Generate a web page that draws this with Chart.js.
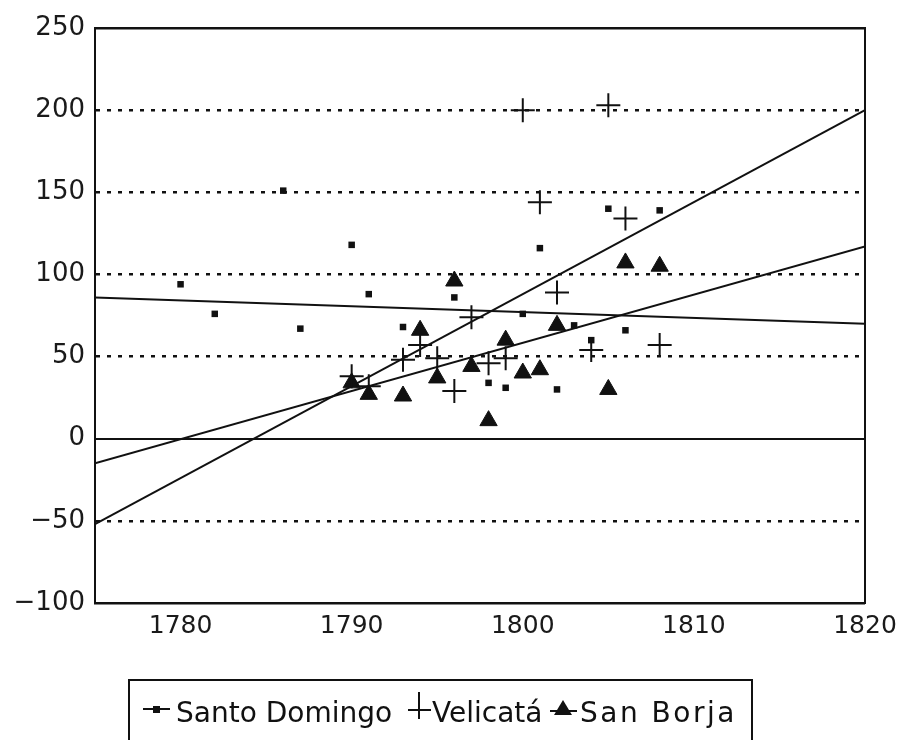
<!DOCTYPE html>
<html>
<head>
<meta charset="utf-8">
<script src="https://cdn.jsdelivr.net/npm/chart.js@4.4.1/dist/chart.umd.min.js"></script>
<style>
  html, body { margin: 0; padding: 0; background: #fff; }
  #wrap { width: 900px; height: 740px; }
</style>
</head>
<body>
<div id="wrap"><canvas id="grafico" width="900" height="740"></canvas></div>
<script>
// --- Dados por missão (ano, valor) ---
const anosSantoDomingo = [1780, 1782, 1786, 1787, 1790, 1791, 1793, 1796, 1798, 1799, 1800, 1801, 1802, 1803, 1804, 1805, 1806, 1808];
const valoresSantoDomingo = [94, 76, 151, 67, 118, 88, 68, 86, 34, 31, 76, 116, 30, 69, 60, 140, 66, 139];

const anosVelicata = [1790, 1791, 1793, 1794, 1795, 1796, 1797, 1798, 1799, 1800, 1801, 1802, 1804, 1805, 1806, 1808];
const valoresVelicata = [38, 32, 48, 57, 49, 29, 74, 46, 49, 200, 144, 89, 54, 203, 134, 57];

const anosSanBorja = [1790, 1791, 1793, 1794, 1795, 1796, 1797, 1798, 1799, 1800, 1801, 1802, 1805, 1806, 1808];
const valoresSanBorja = [34, 27, 26, 66, 37, 96, 44, 11, 60, 40, 42, 69, 30, 107, 105];

// Retas de tendência: valores nos extremos do eixo X
const anosTendencia = [1775, 1820];
const tendenciaSantoDomingo = [86, 70];
const tendenciaVelicata = [-52, 200];
const tendenciaSanBorja = [-15, 117];

// Eixos
const ticksX = [1780, 1790, 1800, 1810, 1820];
const ticksY = [-100, -50, 0, 50, 100, 150, 200, 250];

const pares = (xs, ys) => xs.map((x, i) => ({ x: x, y: ys[i] }));

function reta(valores) {
    return {
        data: pares(anosTendencia, valores),
        showLine: true,
        borderColor: '#111',
        borderWidth: 2,
        pointRadius: 0,
        fill: false
    };
}

// Moldura em volta da área do gráfico
const molduraPlugin = {
    id: 'moldura',
    afterDatasetsDraw(chart) {
        const { ctx, chartArea: a } = chart;
        ctx.save();
        ctx.strokeStyle = '#111';
        ctx.lineWidth = 2;
        ctx.strokeRect(a.left, a.top, a.right - a.left, a.bottom - a.top);
        ctx.restore();
    }
};

// Legenda desenhada à mão na parte de baixo
const legendaPlugin = {
    id: 'legendaCaixa',
    afterDraw(chart) {
        const ctx = chart.ctx;
        ctx.save();
        ctx.strokeStyle = '#111';
        ctx.fillStyle = '#111';
        ctx.lineWidth = 2;
        ctx.strokeRect(129, 680, 623, 80);

        // Santo Domingo: linha com quadrado
        ctx.beginPath();
        ctx.moveTo(143, 709);
        ctx.lineTo(170, 709);
        ctx.stroke();
        ctx.fillRect(153, 706, 7, 7);

        // Velicatá: cruz
        ctx.beginPath();
        ctx.moveTo(408, 710);
        ctx.lineTo(431, 710);
        ctx.moveTo(419, 692);
        ctx.lineTo(419, 719);
        ctx.stroke();

        // San Borja: triângulo sobre linha
        ctx.beginPath();
        ctx.moveTo(550, 711);
        ctx.lineTo(577, 711);
        ctx.stroke();
        ctx.beginPath();
        ctx.moveTo(563, 700);
        ctx.lineTo(572, 715);
        ctx.lineTo(554, 715);
        ctx.closePath();
        ctx.fill();

        ctx.font = '28px "DejaVu Sans"';
        ctx.textBaseline = 'alphabetic';
        ctx.textAlign = 'left';
        ctx.fillText('Santo Domingo', 176, 722);
        ctx.fillText('Velicatá', 432, 722);
        ctx.letterSpacing = '2.5px';
        ctx.fillText('San Borja', 580, 722);
        ctx.restore();
    }
};

Chart.defaults.font.family = '"DejaVu Sans", "Liberation Sans", sans-serif';
Chart.defaults.color = '#1a1a1a';

new Chart(document.getElementById('grafico'), {
    type: 'scatter',
    data: {
        datasets: [
            {
                label: 'Santo Domingo',
                data: pares(anosSantoDomingo, valoresSantoDomingo),
                pointStyle: 'rect',
                pointRadius: 4.6,
                backgroundColor: '#111',
                borderColor: '#111',
                borderWidth: 0
            },
            {
                label: 'Velicatá',
                data: pares(anosVelicata, valoresVelicata),
                pointStyle: 'cross',
                pointRadius: 12,
                borderColor: '#111',
                borderWidth: 2
            },
            {
                label: 'San Borja',
                data: pares(anosSanBorja, valoresSanBorja),
                pointStyle: 'triangle',
                pointRadius: 10,
                backgroundColor: '#111',
                borderColor: '#111',
                borderWidth: 1
            },
            reta(tendenciaSantoDomingo),
            reta(tendenciaVelicata),
            reta(tendenciaSanBorja)
        ]
    },
    options: {
        responsive: false,
        animation: false,
        layout: { padding: { top: 28, right: 35, bottom: 0, left: 0 } },
        plugins: {
            legend: { display: false },
            tooltip: { enabled: false }
        },
        scales: {
            x: {
                type: 'linear',
                min: 1775,
                max: 1820,
                afterBuildTicks: axis => { axis.ticks = ticksX.map(v => ({ value: v })); },
                afterFit: axis => {
                    axis.height = 137;
                    // o rótulo 1820 pode ultrapassar a borda direita
                    axis.paddingLeft = 0;
                    axis.paddingRight = 0;
                },
                grid: { display: false, drawTicks: false },
                border: { display: true, color: '#111', width: 2 },
                ticks: {
                    padding: 8,
                    maxRotation: 0,
                    font: { size: 25 },
                    callback: v => String(v)
                }
            },
            y: {
                min: -100,
                max: 250,
                afterBuildTicks: axis => { axis.ticks = ticksY.map(v => ({ value: v })); },
                afterFit: axis => { axis.width = 95; },
                grid: {
                    color: '#111',
                    lineWidth: ctx => (ctx.tick && ctx.tick.value === 0 ? 2 : 2.4),
                    drawTicks: false
                },
                border: {
                    display: true,
                    color: '#111',
                    width: 2,
                    // linha do zero contínua, as demais pontilhadas
                    dash: ctx => (ctx.tick && (ctx.tick.value === 0 || ctx.tick.value === 250 || ctx.tick.value === -100) ? [] : [4, 7])
                },
                ticks: {
                    padding: 10,
                    font: { size: 26 },
                    callback: v => (v < 0 ? '\u2212' + Math.abs(v) : String(v))
                }
            }
        }
    },
    plugins: [molduraPlugin, legendaPlugin]
});
</script>
</body>
</html>
